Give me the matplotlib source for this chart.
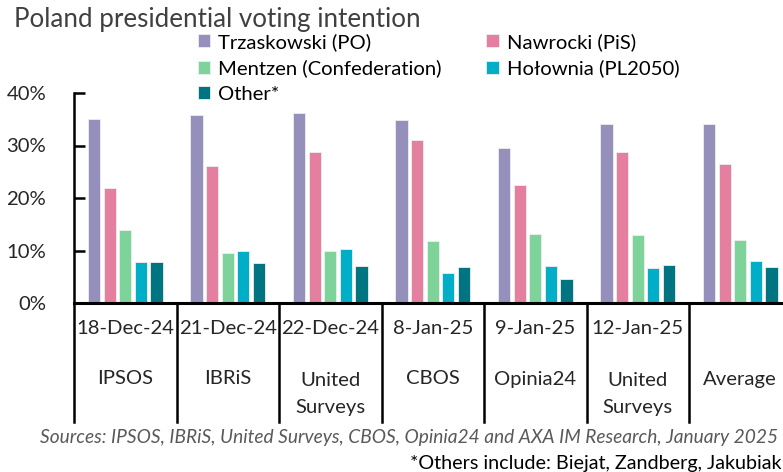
import numpy as np
import matplotlib.pyplot as plt
from matplotlib import transforms

plt.rcParams["font.family"] = ["Lato", "DejaVu Sans"]

dates = ["18-Dec-24", "21-Dec-24", "22-Dec-24", "8-Jan-25", "9-Jan-25", "12-Jan-25", ""]
pollsters = ["IPSOS", "IBRiS", "United\nSurveys", "CBOS", "Opinia24", "United\nSurveys", "Average"]

candidates = ["Trzaskowski (PO)", "Nawrocki (PiS)", "Mentzen (Confederation)", "Hołownia (PL2050)", "Other*"]
colors = ["#9490bb", "#e47fa0", "#7ed39a", "#00aec7", "#007480"]

trzaskowski = [35.0, 35.8, 36.1, 34.9, 29.6, 34.1, 34.1]
nawrocki = [22.0, 26.1, 28.7, 31.0, 22.5, 28.8, 26.4]
mentzen = [13.9, 9.6, 10.0, 11.9, 13.1, 12.9, 12.0]
holownia = [7.8, 10.0, 10.2, 5.8, 7.0, 6.6, 8.0]
other = [7.8, 7.6, 7.0, 6.8, 4.6, 7.2, 6.8]
values = [trzaskowski, nawrocki, mentzen, holownia, other]

fig = plt.figure(figsize=(7.83, 4.72), dpi=100)
ax = fig.add_axes([74 / 783, 169 / 472, 1 - 74 / 783, 210 / 472])

x = np.arange(len(dates))
pitch = 0.152
handles = []
for k, (vals, c, name) in enumerate(zip(values, colors, candidates)):
    b = ax.bar(x + 0.5 + (k - 2) * pitch, vals, width=0.12, color=c,
               edgecolor="#eeeeee", linewidth=0.6, label=name)
    handles.append(b)

ax.set_xlim(0, 709 / 102.5)
ax.set_ylim(0, 40)
ax.set_yticks([0, 10, 20, 30, 40])
ax.set_yticklabels(["0%", "10%", "20%", "30%", "40%"], fontsize=14.6, color="#262626")
ax.tick_params(axis="y", direction="in", length=8, width=1.8, pad=20)
ax.set_xticks([])
for s in ["top", "right"]:
    ax.spines[s].set_visible(False)
ax.spines["left"].set_linewidth(1.8)
ax.spines["bottom"].set_linewidth(2.2)

# category labels under the axis
tr = transforms.blended_transform_factory(ax.transData, fig.transFigure)
for i in range(len(dates) + 1):
    ax.plot([i, i], [169 / 472, 50 / 472], color="black", lw=1.8,
            transform=tr, clip_on=False)
for i, (d, p) in enumerate(zip(dates, pollsters)):
    ax.text(i + 0.5, (472 - 329) / 472, d, transform=tr, ha="center",
            va="center", fontsize=14.6, color="#262626")
    if "\n" in p:
        ax.text(i + 0.5, (472 - 394) / 472, p, transform=tr, ha="center",
                va="center", fontsize=14.6, linespacing=1.75, color="#262626")
    else:
        ax.text(i + 0.5, (472 - 379) / 472, p, transform=tr, ha="center",
                va="center", fontsize=14.6, color="#262626")

fig.text(14 / 783, (472 - 19) / 472, "Poland presidential voting intention",
         fontsize=18.7, color="#404040", va="center", ha="left")

order = [0, 2, 4, 1, 3]
ax.legend([handles[i] for i in order], [candidates[i] for i in order],
          ncol=2, loc="upper left", bbox_to_anchor=(198 / 783, (472 - 33) / 472),
          bbox_transform=fig.transFigure, frameon=False, fontsize=14.6,
          handlelength=0.6, handleheight=0.6, handletextpad=0.4,
          columnspacing=2.2, labelspacing=0.42, borderaxespad=0, borderpad=0)

fig.text(778 / 783, (472 - 437) / 472,
         "Sources: IPSOS, IBRiS, United Surveys, CBOS, Opinia24 and AXA IM Research, January 2025",
         fontsize=13.8, style="italic", color="#595959", ha="right", va="center")
fig.text(781 / 783, (472 - 463) / 472, "*Others include: Biejat, Zandberg, Jakubiak",
         fontsize=14.2, color="black", ha="right", va="center")

fig.savefig("out.png", dpi=100)
